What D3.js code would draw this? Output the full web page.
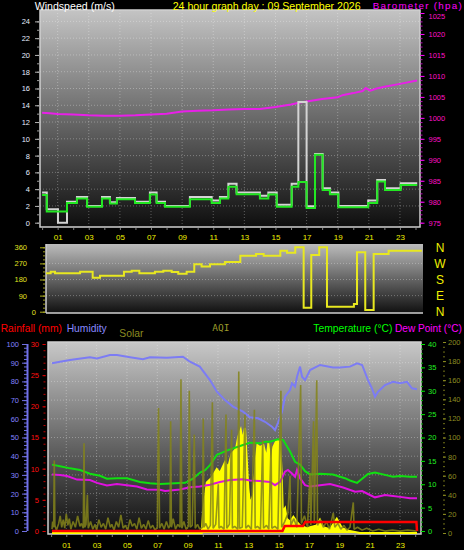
<!DOCTYPE html>
<html><head><meta charset="utf-8">
<script src="https://cdn.jsdelivr.net/npm/d3@7"></script>
<style>
body{margin:0;background:#000;}
svg{display:block;}
text{font-family:"Liberation Sans",Arial,sans-serif;}
</style></head><body>
<svg id="c" width="464" height="550"></svg>
<script>
// ---------- DATA ----------
const hourLabels = [1,3,5,7,9,11,13,15,17,19,21,23];
const windTimes = [0,0.3,1.02,1.6,2.24,2.89,3.85,4.36,4.81,5.97,6.93,7.36,7.9,9.5,10.9,11.43,11.97,12.5,14.0,14.54,15.08,16.04,16.47,17.0,17.54,18.03,18.5,19.04,20.96,21.54,22.04,23.05,24.11];
const windAvg   = [3.3,1.35,1.35,2.35,2.9,1.9,2.9,2.3,2.8,2.35,3.35,2.35,1.9,2.8,2.35,2.9,4.3,3.4,2.9,3.35,1.9,4.3,4.85,1.75,8.1,3.9,3.4,1.85,2.35,4.9,3.9,4.5,4.5];
const windGust  = [3.6,1.6,0,2.5,3.05,2.0,3.05,2.45,2.95,2.5,3.6,2.5,2.0,3.05,2.65,3.05,4.65,3.6,3.2,3.6,2.15,4.65,14.4,1.95,8.2,4.1,3.6,2.0,2.65,5.1,4.1,4.7,4.7];
const baroTimes = [0,0.5,1,2,3,4,5,6,7,8,9,10,11,12,13,14,15,16,16.5,17,17.5,18,19,19.3,20,20.6,20.8,21.1,21.5,22,23,24.1];
const baroValues= [1001.2,1001.1,1000.9,1000.8,1000.6,1000.5,1000.5,1000.6,1000.8,1001.0,1001.5,1001.7,1001.8,1002.0,1002.1,1002.1,1002.6,1003.2,1003.6,1003.9,1004.2,1004.5,1004.9,1005.4,1005.9,1006.4,1007.1,1006.5,1007.0,1007.4,1008.1,1008.9];
const dirTimes  = [0,0.3,0.58,2.19,3.0,3.47,5.01,5.51,6.0,7.0,7.54,8.08,8.5,9.04,9.53,10.0,10.54,11.5,12.49,13.5,13.99,15.06,15.49,16.02,16.56,17.05,17.56,18.06,19.79,19.99,20.52,21.06,22.02,24.16];
const dirValues = [215,224,215,224,190,201,224,229,215,224,229,222,212,224,265,252,265,278,313,322,313,341,330,360,22,317,360,28,43,332,10,322,341,341];
const humTimes  = [0.06,0.59,1.25,1.71,2.56,3.03,3.88,4.34,5.2,6.05,6.52,7.64,8.69,9.15,9.8,10.47,10.93,11.46,11.99,12.65,13.11,13.64,14.1,14.56,14.76,14.96,15.22,15.42,15.75,15.88,16.08,16.21,16.41,16.54,16.74,17.07,17.73,18.58,19.04,19.7,20.17,20.5,20.89,21.15,21.35,21.55,22.01,22.54,23.0,23.46,23.79,24.12];
const humValues = [89.7,90.5,91.4,92,92.9,92.3,94.1,94.1,92.9,91.8,92.9,92.7,93.2,90.5,87.9,80.7,74.5,70,66.5,63.8,60.8,60.3,58.4,55.8,54,58,63.8,71.8,75.4,79,77.2,82.5,87.9,82.5,80.7,86.1,88.8,87.5,87.5,87.9,89.7,88.8,80.7,76.3,71.8,74.5,78,79.8,79,79.8,76.3,75.8];
const tempTimes = [0.06,0.59,1.25,1.91,2.56,3.22,3.68,4.34,5.0,5.86,6.52,7.18,7.84,8.83,8.96,9.35,9.82,10.15,10.47,10.93,11.66,12.65,13.11,13.77,14.1,14.43,14.96,15.29,15.75,16.08,16.41,16.74,17.07,17.73,18.58,19.37,19.7,20.17,20.36,20.89,21.35,22.01,22.54,23.0,23.66,24.12];
const tempValues= [14.2,13.85,13.4,13.05,12.25,11.8,11.2,11.3,11.3,10.5,10.2,10.05,10.15,10.3,10.5,11.2,12.5,13,14.1,16.3,17.3,18.4,18.9,18.75,19.1,19.1,19.6,19.5,17,14.8,14.2,12.8,12.1,12.25,12.1,11.3,10.8,10.3,10.8,12.2,12.5,12,11.6,11.75,11.6,11.6];
const dewTimes  = [0.06,0.59,1.05,1.71,2.56,3.03,3.68,4.34,5.0,5.66,6.32,7.18,7.51,8.5,9.15,9.8,10.47,11.13,11.79,12.65,13.11,13.77,14.43,14.76,15.09,15.42,15.61,15.88,16.08,16.21,16.41,16.74,17.07,17.73,18.39,19.25,20.04,20.5,21.02,21.35,22.01,22.54,23.0,23.66,24.12];
const dewValues = [12.1,12.0,11.75,11.0,10.9,10.3,9.75,10.05,9.8,9.5,8.9,8.8,8.55,8.9,9.35,9.5,9.9,10.5,10.9,11.05,10.8,10.7,10.5,9.8,10.5,12.7,13.05,12.3,11.6,13.05,11.3,9.8,9.5,9.8,10.05,9.3,8.4,8.55,7.7,7.2,7.7,7.5,7.3,7.0,7.0];
const rainTimes = [0.06,15.25,15.4,16.6,16.75,24.08,24.12];
const rainValues= [0,0,0.8,0.8,1.45,1.45,0];
const solarTimes= [0.06,9.93,10.01,10.26,10.59,10.92,11.13,11.46,11.68,11.9,12.19,12.34,12.5,12.63,12.78,12.89,13.0,13.11,13.33,13.51,13.6,13.77,13.99,14.21,14.32,14.48,14.65,14.83,14.98,15.09,15.2,15.27,15.42,15.53,15.75,15.97,16.19,16.41,16.85,17.07,17.51,17.72,17.94,18.38,18.83,19.18,19.7,20.36,24.12];
const solarValues=[0,0,20,53,58,67,63,74,69,83,88,101,108,97,110,79,47,30,40,79,92,90,92,78,94,69,90,96,97,96,62,22,26,15,12,17,12,8,5,6,8,14,6,4,15,5,2,0,0];
const aqiTimes  = [0.06,0.1,0.17,0.21,0.25,0.35,0.5,0.6,0.7,0.8,0.9,1.0,1.1,1.2,1.3,1.45,1.6,1.75,1.9,2.0,2.12,2.17,2.22,2.3,2.39,2.45,2.6,2.75,2.9,3.0,3.15,3.3,3.45,3.6,3.75,3.9,4.0,4.15,4.3,4.45,4.6,4.75,4.9,5.05,5.2,5.35,5.5,5.65,5.8,5.95,6.1,6.25,6.4,6.55,6.7,6.85,7.0,7.08,7.15,7.3,7.45,7.6,7.75,7.84,7.88,7.93,8.05,8.2,8.35,8.5,8.56,8.62,8.75,8.9,9.05,9.11,9.17,9.3,9.44,9.5,9.65,9.8,9.98,10.03,10.08,10.2,10.35,10.5,10.63,10.68,10.85,11.02,11.07,11.2,11.4,11.53,11.58,11.75,11.9,11.95,12.1,12.3,12.37,12.42,12.6,12.78,12.83,13.0,13.2,13.4,13.45,13.6,13.8,13.95,14.0,14.2,14.35,14.5,14.55,14.75,14.95,15.15,15.2,15.4,15.6,15.75,15.8,16.0,16.2,16.45,16.5,16.7,16.9,17.07,17.12,17.3,17.35,17.51,17.56,17.75,17.95,18.15,18.35,18.6,18.7,18.9,19.1,19.3,19.5,19.7,19.92,19.97,20.2,20.5,20.8,21.2,21.6,22.0,22.5,23.0,23.5,24.1];
const aqiValues = [4,12,6,76,8,3,10,18,6,14,5,20,8,15,4,12,6,18,7,10,5,94,6,9,40,5,12,4,9,3,14,6,10,4,16,6,9,3,12,6,19,5,8,3,14,7,10,4,16,5,9,4,13,5,8,3,6,131,5,10,4,12,5,8,117,6,15,4,9,6,161,5,12,4,7,149,6,8,103,5,9,4,6,120,6,10,4,8,137,5,9,51,5,7,4,124,5,9,108,5,7,4,169,5,6,124,5,8,4,129,5,7,4,97,5,8,4,94,5,7,4,149,6,12,20,60,8,15,6,155,10,18,6,63,8,117,10,160,8,14,6,12,4,21,6,10,4,8,3,6,32,4,6,3,5,2,4,2,3,2,3,2];
const leftWindTicks = [0,2,4,6,8,10,12,14,16,18,20,22,24];
const baroTicks = [975,980,985,990,995,1000,1005,1010,1015,1020,1025];
const dirTicks = [0,90,180,270,360];
const compass = ["N","W","S","E","N"];
const humTicks = [0,10,20,30,40,50,60,70,80,90,100];
const rainTicks = [0,5,10,15,20,25,30];
const tempTicks = [0,5,10,15,20,25,30,35,40];
const solarTicks = [0,20,40,60,80,100,120,140,160,180,200];

// ---------- SETUP ----------
const svg = d3.select('#c');
svg.append('rect').attr('width',464).attr('height',550).attr('fill','#000');
const defs = svg.append('defs');
function grad(id,c0,c1){const g=defs.append('linearGradient').attr('id',id).attr('x1',0).attr('y1',0).attr('x2',0).attr('y2',1);
 g.append('stop').attr('offset','0%').attr('stop-color',c0);g.append('stop').attr('offset','100%').attr('stop-color',c1);}
grad('gTop','#c4c4c4','#0e0e0e');grad('gMid','#bcbcbc','#101010');grad('gBot','#c8c8c8','#0e0e0e');
const fmt2 = d3.format('02d');
const fmtD = d3.format('d');
const zipper = (t,v)=>t.map((d,i)=>[d,v[i]]);

function styleAxis(g,color,size,lineColor){
  g.select('.domain').remove();
  g.selectAll('text').attr('fill',color).style('font-size',size+'px').style('font-family','"Liberation Sans",Arial,sans-serif');
  g.selectAll('line').attr('stroke',lineColor||color);
}
function minor(g){g.select('.domain').remove();g.selectAll('text').remove();}

// ================= TOP CHART =================
const xTop = d3.scaleLinear([0,24],[42.1,415.5]);
const yWind = d3.scaleLinear([0,25],[222.7,13.0]);
const yBaro = d3.scaleLinear([975,1025],[222.7,13.0]);
svg.append('rect').attr('x',40).attr('y',10).attr('width',380).attr('height',217).attr('fill','url(#gTop)');
const gridTop = svg.append('g').attr('stroke','rgba(255,255,255,0.3)').attr('stroke-dasharray','1,2');
gridTop.selectAll('.h').data(leftWindTicks.slice(1)).join('line').attr('x1',40).attr('x2',420).attr('y1',d=>yWind(d)).attr('y2',d=>yWind(d));
gridTop.selectAll('.v').data(hourLabels).join('line').attr('x1',d=>xTop(d)).attr('x2',d=>xTop(d)).attr('y1',10).attr('y2',227);
svg.append('rect').attr('x',40).attr('y',10).attr('width',380).attr('height',217).attr('fill','none').attr('stroke','#d0d0d0').attr('stroke-width',1.5);

const lineT = d3.line().x(d=>xTop(d[0])).y(d=>yWind(d[1])).curve(d3.curveStepAfter);
svg.append('path').attr('d',d3.line().x(d=>xTop(d[0])).y(d=>yBaro(d[1]))(zipper(baroTimes,baroValues))).attr('fill','none').attr('stroke','#e820e8').attr('stroke-width',2);
svg.append('path').attr('d',lineT(zipper(windTimes,windGust))).attr('fill','none').attr('stroke','#d4d4d4').attr('stroke-width',2);
svg.append('path').attr('d',lineT(zipper(windTimes,windAvg))).attr('fill','none').attr('stroke','#22e822').attr('stroke-width',2);

let g;
g = svg.append('g').attr('transform','translate(39,0)').call(d3.axisLeft(yWind).tickValues(d3.range(0,25,1)).tickSize(2));minor(g);g.selectAll('line').attr('stroke','#9a9a9a');
g = svg.append('g').attr('transform','translate(39,0)').call(d3.axisLeft(yWind).tickValues(leftWindTicks).tickSize(4).tickPadding(5));styleAxis(g,'#e4ecff',7.5,'#b0b0b0');
g = svg.append('g').attr('transform','translate(420.5,0)').call(d3.axisRight(yBaro).tickValues(d3.range(975,1026,1)).tickSize(2));minor(g);g.selectAll('line').attr('stroke','#c000c0');
g = svg.append('g').attr('transform','translate(420.5,0)').call(d3.axisRight(yBaro).tickValues(baroTicks).tickFormat(fmtD).tickSize(4).tickPadding(4));styleAxis(g,'#ff10c8',7.5,'#ff00ff');
g.selectAll('.tick').filter(d=>d===1025).select('text').attr('dy','0.68em');
g = svg.append('g').attr('transform','translate(0,228)').call(d3.axisBottom(xTop).tickValues(d3.range(0,25,1)).tickSize(2));minor(g);g.selectAll('line').attr('stroke','#808080');
g = svg.append('g').attr('transform','translate(0,231)').call(d3.axisBottom(xTop).tickValues(hourLabels).tickFormat(fmt2).tickSize(0).tickPadding(3));styleAxis(g,'#f0f000',8);

// ================= MIDDLE (direction) =================
const xMid = d3.scaleLinear([0,24],[46,419.4]);
const yDir = d3.scaleLinear([0,360],[311.7,247.3]);
svg.append('rect').attr('x',46).attr('y',244).attr('width',377).attr('height',69).attr('fill','url(#gMid)');
svg.append('g').attr('stroke','rgba(255,255,255,0.3)').attr('stroke-dasharray','1,2').selectAll('line').data([90,180,270]).join('line')
  .attr('x1',46).attr('x2',423).attr('y1',d=>yDir(d)).attr('y2',d=>yDir(d));
svg.append('line').attr('x1',46).attr('x2',46).attr('y1',244).attr('y2',313).attr('stroke','#d0d0d0').attr('stroke-width',1.5);
svg.append('line').attr('x1',46).attr('x2',423).attr('y1',313).attr('y2',313).attr('stroke','#d0d0d0').attr('stroke-width',1.5);
svg.append('path').attr('d',d3.line().x(d=>xMid(d[0])).y(d=>yDir(d[1])).curve(d3.curveStepAfter)(zipper(dirTimes,dirValues)))
  .attr('fill','none').attr('stroke','#e8e820').attr('stroke-width',2);
g = svg.append('g').attr('transform','translate(45,0)').call(d3.axisLeft(yDir).tickValues(d3.range(0,361,22.5)).tickSize(2));minor(g);g.selectAll('line').attr('stroke','#a0a020');
g = svg.append('g').attr('transform','translate(45,0)').call(d3.axisLeft(yDir).tickValues(dirTicks).tickSize(5).tickPadding(13));styleAxis(g,'#e0e020',7.5,'#b0b020');
g.selectAll('.tick').filter(d=>d===0).select('text').attr('x',-9);
svg.append('g').selectAll('text').data(dirTicks).join('text').attr('x',440).attr('y',d=>yDir(d)+4.5).attr('text-anchor','middle')
  .attr('fill','#f0f000').style('font-size','12px').text((d,i)=>compass[4-i]);

// ================= BOTTOM CHART =================
const xBot = d3.scaleLinear([0,24],[51.1,415.2]);
const yHum = d3.scaleLinear([0,100],[531,344]);
const yRain = d3.scaleLinear([0,30],[531,344]);
const yTemp = d3.scaleLinear([0,40],[531,344]);
const ySolar = d3.scaleLinear([0,200],[533,342]);
svg.append('rect').attr('x',48).attr('y',342).attr('width',373).attr('height',192).attr('fill','url(#gBot)');
const gridB = svg.append('g').attr('stroke','rgba(255,255,255,0.3)').attr('stroke-dasharray','1,2');
gridB.selectAll('.h').data(humTicks.slice(1,10)).join('line').attr('x1',48).attr('x2',421).attr('y1',d=>yHum(d)).attr('y2',d=>yHum(d));
gridB.selectAll('.v').data(hourLabels).join('line').attr('x1',d=>xBot(d)).attr('x2',d=>xBot(d)).attr('y1',342).attr('y2',534);
svg.append('rect').attr('x',48).attr('y',342).attr('width',373).attr('height',192).attr('fill','none').attr('stroke','#d0d0d0').attr('stroke-width',1.5);

const solarPts = zipper(solarTimes,solarValues);
svg.append('path').attr('d',d3.area().x(d=>xBot(d[0])).y0(ySolar(0)).y1(d=>ySolar(d[1]))(solarPts)).attr('fill','#ffff00');
svg.append('path').attr('d',d3.line().x(d=>xBot(d[0])).y(d=>ySolar(d[1]))(solarPts)).attr('fill','none').attr('stroke','#ffff00').attr('stroke-width',2);
svg.append('path').attr('d',d3.line().x(d=>xBot(d[0])).y(d=>yHum(d[1]))(zipper(humTimes,humValues))).attr('fill','none').attr('stroke','#7c7cf4').attr('stroke-width',2);
svg.append('path').attr('d',d3.line().x(d=>xBot(d[0])).y(d=>yTemp(d[1]))(zipper(tempTimes,tempValues))).attr('fill','none').attr('stroke','#10e010').attr('stroke-width',2);
svg.append('path').attr('d',d3.line().x(d=>xBot(d[0])).y(d=>yTemp(d[1]))(zipper(dewTimes,dewValues))).attr('fill','none').attr('stroke','#e010e0').attr('stroke-width',2);
svg.append('path').attr('d',d3.line().x(d=>xBot(d[0])).y(d=>ySolar(d[1]))(zipper(aqiTimes,aqiValues))).attr('fill','none').attr('stroke','#84841a').attr('stroke-width',1.6).attr('stroke-opacity',0.85).attr('stroke-linejoin','bevel');
svg.append('path').attr('d',d3.line().x(d=>xBot(d[0])).y(d=>yRain(d[1]))(zipper(rainTimes,rainValues))).attr('fill','none').attr('stroke','#ff0000').attr('stroke-width',2.5);

// axes
g = svg.append('g').attr('transform','translate(27,0)').call(d3.axisLeft(yHum).tickValues(d3.range(0,101,2)).tickSize(3));minor(g);g.selectAll('line').attr('stroke','#7070e0');
g = svg.append('g').attr('transform','translate(27,0)').call(d3.axisLeft(yHum).tickValues(humTicks).tickSize(5).tickPadding(3));styleAxis(g,'#8080ff',7.5,'#7070e0');
svg.append('line').attr('x1',27.5).attr('x2',27.5).attr('y1',344).attr('y2',531).attr('stroke','#7070e8').attr('stroke-width',2);
g = svg.append('g').attr('transform','translate(45.5,0)').call(d3.axisLeft(yRain).tickValues(d3.range(0,31,1)).tickSize(2));minor(g);g.selectAll('line').attr('stroke','#c00000');
g = svg.append('g').attr('transform','translate(45.5,0)').call(d3.axisLeft(yRain).tickValues(rainTicks).tickSize(3).tickPadding(3.5));styleAxis(g,'#ff1010',7.5,'#e00000');
g = svg.append('g').attr('transform','translate(421,0)').call(d3.axisRight(yTemp).tickValues(d3.range(0,41,1)).tickSize(2));minor(g);g.selectAll('line').attr('stroke','#00b000');
g = svg.append('g').attr('transform','translate(421,0)').call(d3.axisRight(yTemp).tickValues(tempTicks).tickSize(4).tickPadding(3));styleAxis(g,'#20f020',7.5,'#00e000');
g = svg.append('g').attr('transform','translate(443,0)').call(d3.axisRight(ySolar).tickValues(d3.range(0,201,5)).tickSize(2));minor(g);g.selectAll('line').attr('stroke','#707018');
g = svg.append('g').attr('transform','translate(443,0)').call(d3.axisRight(ySolar).tickValues(solarTicks).tickSize(3).tickPadding(2));styleAxis(g,'#8c8c20',7.5,'#8c8c20');
g = svg.append('g').attr('transform','translate(0,535)').call(d3.axisBottom(xBot).tickValues(d3.range(0,25,1)).tickSize(2));minor(g);g.selectAll('line').attr('stroke','#808080');
g = svg.append('g').attr('transform','translate(0,539)').call(d3.axisBottom(xBot).tickValues(hourLabels).tickFormat(fmt2).tickSize(0).tickPadding(3));styleAxis(g,'#f0f000',8);

// ================= HEADERS =================
const hdr = [
 {t:'Windspeed (m/s)',x:34.7,y:9.7,c:'#ffffff',s:10.6,w:null},
 {t:'24 hour graph day : 09 September 2026',x:172.7,y:9.7,c:'#ffff00',s:10.6,w:null},
 {t:'Barometer (hpa)',x:372.7,y:8.9,c:'#ff00ff',s:9.8,w:89},
 {t:'Rainfall (mm)',x:0.7,y:332,c:'#ff0000',s:10.3,w:null},
 {t:'Humidity',x:66.7,y:332,c:'#8888ff',s:10.3,w:null},
 {t:'Solar',x:119.3,y:337,c:'#8c8c20',s:10.3,w:null},
 {t:'Temperature (°C)',x:313.3,y:332,c:'#00ff00',s:10.3,w:null},
 {t:'Dew Point (°C)',x:395,y:332,c:'#ff00ff',s:10.1,w:null}
];
const ht = svg.append('g').selectAll('text').data(hdr).join('text').attr('x',d=>d.x).attr('y',d=>d.y).attr('fill',d=>d.c).style('font-size',d=>d.s+'px').text(d=>d.t);
ht.filter(d=>d.w).attr('textLength',d=>d.w).attr('lengthAdjust','spacing');
svg.append('text').attr('x',212.3).attr('y',331).attr('fill','#9a9a2a').style('font-family','"DejaVu Sans Mono",monospace').style('font-size','9.5px').text('AQI');
</script>
</body></html>
